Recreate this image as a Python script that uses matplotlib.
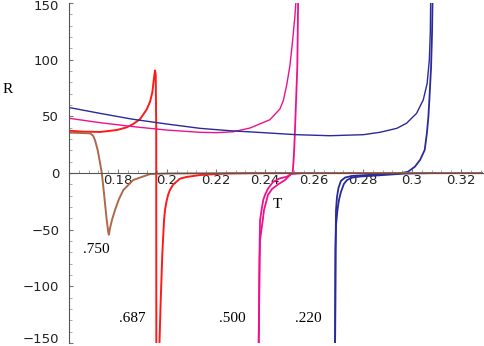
import matplotlib
matplotlib.use("Agg")
import matplotlib.pyplot as plt
from matplotlib.ticker import MultipleLocator
from matplotlib.transforms import ScaledTranslation

# curvature R versus temperature T (four parameter values)
# .750 (brown)
T_750 = [0.1600, 0.1645, 0.1686, 0.1698, 0.1706, 0.1717, 0.1727, 0.1734, 0.1740,
         0.1747, 0.1754, 0.1760, 0.1763, 0.1767, 0.1776, 0.1788, 0.1804, 0.1822,
         0.1862, 0.1931, 0.2012, 0.2200, 0.2600, 0.3000, 0.3290]
R_750 = [35.6, 35.3, 35.0, 33.0, 29.1, 20.3, 8.6, -0.3, -12.1,
         -26.7, -41.5, -51.8, -54.5, -49.0, -41.0, -32.6, -23.0, -15.0,
         -6.2, -0.9, -0.4, -0.2, -0.1, -0.1, -0.1]

# .687 (red)
T_687_up = [0.1600, 0.1658, 0.1727, 0.1795, 0.1836, 0.1862, 0.1890, 0.1917, 0.1931,
            0.1940, 0.1946, 0.1951, 0.1954, 0.1956, 0.19565]
R_687_up = [37.3, 36.5, 36.2, 37.9, 40.3, 43.2, 47.5, 56.0, 63.0,
            71.0, 82.0, 90.5, 87.0, 40.0, -160.0]
T_687_lo = [0.1968, 0.1974, 0.1981, 0.1988, 0.1992, 0.1999, 0.2005, 0.2012, 0.2026,
            0.2040, 0.2053, 0.2080, 0.2135, 0.2203, 0.2244, 0.2339, 0.2500, 0.2800, 0.3290]
R_687_lo = [-160.0, -115.0, -71.0, -41.5, -32.6, -24.0, -19.0, -15.0, -10.0,
            -7.5, -5.0, -3.5, -1.8, -0.9, -0.4, -0.1, 0.0, 0.0, 0.0]

# .500 (magenta)
T_500_up = [0.1600, 0.1727, 0.1862, 0.1999, 0.2135, 0.2203, 0.2271, 0.2339, 0.2420,
            0.2461, 0.2475, 0.2489, 0.2502, 0.2512, 0.2522, 0.2527, 0.2530]
R_500_up = [48.3, 44.4, 40.9, 37.9, 35.9, 35.6, 36.4, 39.7, 47.0,
            56.5, 64.0, 78.0, 95.0, 115.0, 138.0, 153.0, 170.0]
T_500_lo1 = [0.2536, 0.2532, 0.2522, 0.2518, 0.2513, 0.2489, 0.2461, 0.2434, 0.2413,
             0.2400, 0.2393, 0.2386, 0.2380, 0.2378, 0.2374]
R_500_lo1 = [165.0, 93.8, 35.0, 15.0, 0.0, -3.3, -4.7, -7.7, -13.5,
             -19.4, -23.8, -32.6, -41.5, -68.0, -160.0]
T_500_lo2 = [0.2560, 0.2506, 0.2482, 0.2453, 0.2429, 0.2412, 0.2407, 0.2396, 0.2391,
             0.2380, 0.2378, 0.2374]
R_500_lo2 = [0.0, -0.9, -6.2, -10.1, -14.1, -19.4, -23.8, -32.6, -41.5,
             -59.0, -76.8, -160.0]

# .220 (blue)
T_220_up = [0.1600, 0.1727, 0.1861, 0.2000, 0.2135, 0.2257, 0.2393, 0.2529, 0.2665,
            0.2801, 0.2869, 0.2938, 0.2978, 0.3019, 0.3046, 0.3062, 0.3071, 0.3075, 0.3077]
R_220_up = [57.8, 52.6, 47.4, 43.2, 39.4, 37.3, 35.6, 33.8, 32.9,
            33.8, 35.9, 39.4, 43.9, 52.7, 64.4, 79.0, 100.0, 125.0, 165.0]
T_220_lo1 = [0.3085, 0.3082, 0.3078, 0.3071, 0.3067, 0.3061, 0.3052, 0.3033, 0.3012,
             0.2984, 0.2951, 0.2829, 0.2755, 0.2727, 0.2710, 0.2700, 0.2694, 0.2690,
             0.2688, 0.2686]
R_220_lo1 = [165.0, 123.5, 93.5, 64.4, 49.4, 35.3, 20.3, 11.5, 5.6,
             1.1, -0.3, -1.6, -2.6, -4.0, -7.0, -13.2, -21.0, -32.6,
             -68.0, -160.0]
T_220_lo2 = [0.3100, 0.2971, 0.2869, 0.2788, 0.2755, 0.2735, 0.2722, 0.2710, 0.2702,
             0.2696, 0.2690, 0.2688, 0.2686]
R_220_lo2 = [0.0, -0.5, -2.0, -3.1, -4.1, -6.2, -9.7, -16.8, -23.8,
             -32.6, -45.9, -68.0, -160.0]

X_TICKS = [0.18, 0.20, 0.22, 0.24, 0.26, 0.28, 0.30, 0.32]
X_TICK_LABELS = ["0.18", "0.2", "0.22", "0.24", "0.26", "0.28", "0.3", "0.32"]
Y_TICKS = [-150, -100, -50, 0, 50, 100, 150]

BROWN = "#b0674a"
RED = "#ff1a1a"
MAGENTA = "#f0108c"
BLUE = "#2a2a9a"

plt.rcParams["font.family"] = ["DejaVu Sans"]

fig = plt.figure(figsize=(4.85, 3.46), dpi=100)
ax = fig.add_axes([69 / 485, 3 / 346, 414 / 485, 340 / 346])

ax.plot(T_687_up, R_687_up, color=RED, lw=1.4)
ax.plot(T_687_lo, R_687_lo, color=RED, lw=1.4)
ax.plot(T_500_up, R_500_up, color=MAGENTA, lw=1.0)
ax.plot(T_500_lo1, R_500_lo1, color=MAGENTA, lw=1.3)
ax.plot(T_500_lo2, R_500_lo2, color=MAGENTA, lw=1.3)
ax.plot(T_220_up, R_220_up, color=BLUE, lw=1.0)
ax.plot(T_220_lo1, R_220_lo1, color=BLUE, lw=1.3)
ax.plot(T_220_lo2, R_220_lo2, color=BLUE, lw=1.3)
ax.plot(T_750, R_750, color=BROWN, lw=1.4)

ax.set_xlim(0.16, 0.329)
ax.set_ylim(-150, 150)

# Maple-style axes: x axis through R = 0, y axis on the left edge
for side in ("top", "right"):
    ax.spines[side].set_visible(False)
ax.spines["bottom"].set_position(("data", 0))
for side in ("bottom", "left"):
    ax.spines[side].set_color("#555555")
    ax.spines[side].set_linewidth(0.8)

ax.set_xticks(X_TICKS)
ax.set_xticklabels(X_TICK_LABELS)
ax.set_yticks(Y_TICKS)
ax.xaxis.set_minor_locator(MultipleLocator(0.004))
ax.yaxis.set_minor_locator(MultipleLocator(10))
ax.tick_params(axis="both", which="major", direction="in", length=3,
               color="#777777", labelsize=9.5, labelcolor="#222222")
ax.tick_params(axis="both", which="minor", direction="in", length=2, color="#999999")
ax.tick_params(axis="x", pad=1)
ax.tick_params(axis="y", pad=7)
ax.patch.set_alpha(0)

# keep the end labels of the y axis inside the picture
ylabels = ax.get_yticklabels()
ylabels[-1].set_transform(ylabels[-1].get_transform()
                          + ScaledTranslation(0, -2 / 100, fig.dpi_scale_trans))
ylabels[0].set_transform(ylabels[0].get_transform()
                         + ScaledTranslation(0, 5 / 100, fig.dpi_scale_trans))

serif = ["Liberation Serif", "DejaVu Serif"]
ax.text(0.1351, 74, "R", family=serif, fontsize=11, ha="center", va="center",
        clip_on=False)
ax.text(0.2449, -27.4, "T", family=serif, fontsize=11, ha="center", va="center")
for tx, ry, lab in [(0.1710, -67.1, ".750"), (0.1859, -128.8, ".687"),
                    (0.2267, -128.8, ".500"), (0.2578, -128.8, ".220")]:
    ax.text(tx, ry, lab, family=serif, fontsize=11, ha="center", va="center")

fig.savefig("out.png", dpi=100)
